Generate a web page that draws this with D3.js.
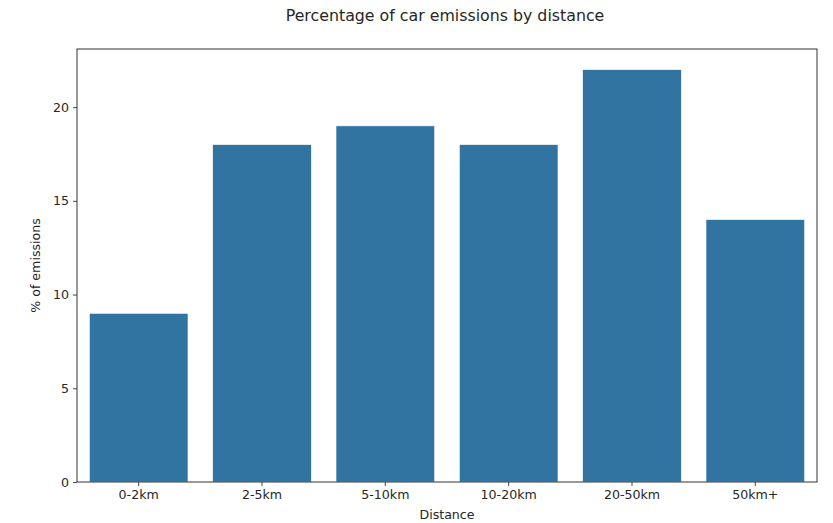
<!DOCTYPE html>
<html><head><meta charset="utf-8">
<script src="https://cdn.jsdelivr.net/npm/d3@7"></script>
<style>body{margin:0;background:#fff}svg{display:block}text{font-family:"DejaVu Sans",sans-serif;fill:#262626}</style>
</head><body><svg id="c" width="833" height="523"></svg>
<script>
const categories = ["0-2km","2-5km","5-10km","10-20km","20-50km","50km+"];
const values = [9,18,19,18,22,14];
const yTicks = [0,5,10,15,20];

const L=77,R=817,T=49,B=482;
const svg=d3.select("#c");
const x=d3.scaleBand().domain(categories).range([L,R]).paddingInner(0.2).paddingOuter(0.1);
const y=d3.scaleLinear().domain([0,23.1]).range([B,T]);

svg.append("g").selectAll("rect").data(values).join("rect")
  .attr("x",(d,i)=>x(categories[i])).attr("width",x.bandwidth())
  .attr("y",d=>y(d)).attr("height",d=>B-y(d))
  .attr("fill","#3274a1").attr("stroke","#fff").attr("stroke-width",0.6);

const ya=svg.append("g").attr("transform",`translate(${L},0)`)
  .call(d3.axisLeft(y).tickValues(yTicks).tickSize(4).tickPadding(4).tickFormat(d3.format("d")));
const xa=svg.append("g").attr("transform",`translate(0,${B})`)
  .call(d3.axisBottom(x).tickSize(4).tickPadding(4));
[ya,xa].forEach(a=>{a.select(".domain").remove();a.selectAll("line").attr("stroke","#333").attr("stroke-width",0.9);
  a.selectAll("text").style("font-size","12.6px").style("font-family","DejaVu Sans").attr("fill","#262626");});

svg.append("rect").attr("x",L).attr("y",T).attr("width",R-L).attr("height",B-T)
  .attr("fill","none").attr("stroke","#333").attr("stroke-width",1);

svg.append("text").attr("x",(L+R)/2-2).attr("y",21).attr("text-anchor","middle").style("font-size","15.8px").text("Percentage of car emissions by distance");
svg.append("text").attr("x",(L+R)/2).attr("y",519).attr("text-anchor","middle").style("font-size","12.6px").text("Distance");
svg.append("text").attr("transform",`translate(40,${(T+B)/2}) rotate(-90)`).attr("text-anchor","middle").style("font-size","12.6px").text("% of emissions");
</script></body></html>
